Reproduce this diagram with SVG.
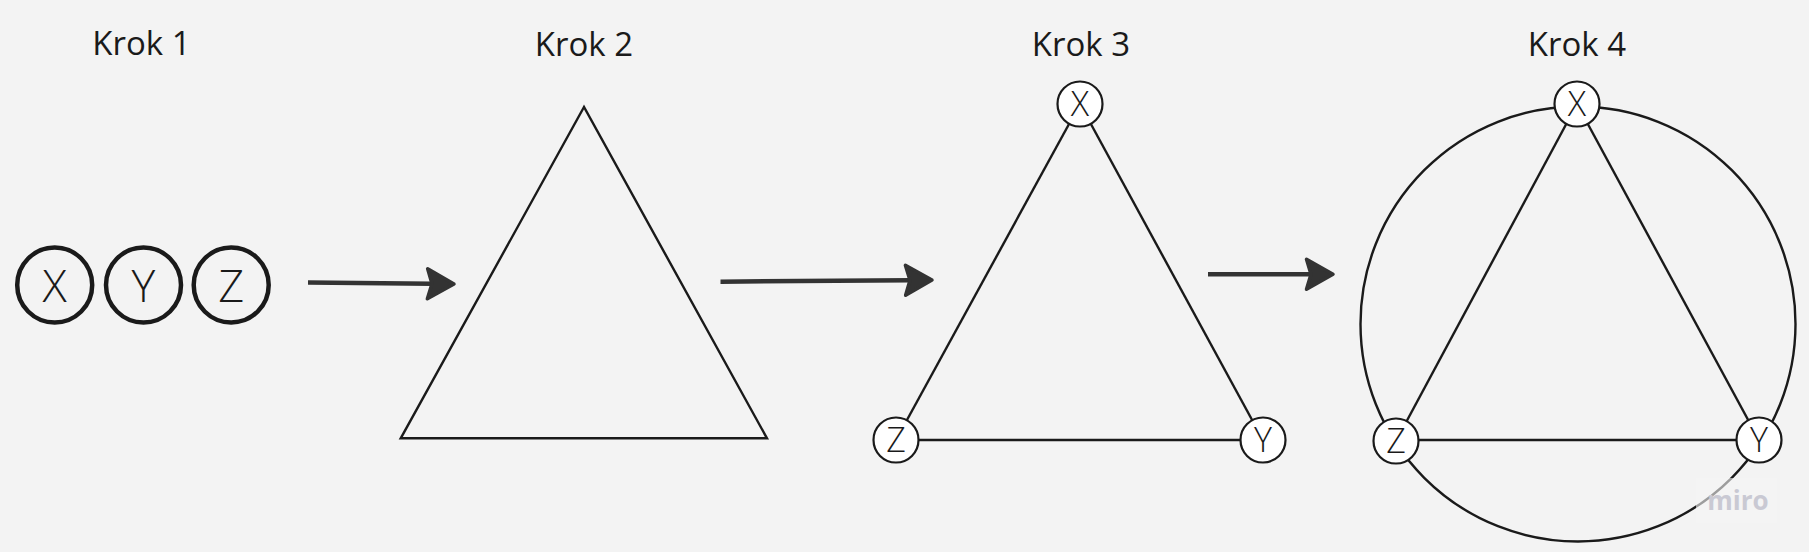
<svg xmlns="http://www.w3.org/2000/svg" width="1809" height="552" viewBox="0 0 1809 552">
  <defs>
    <style>
      .title { font-family: "Open Sans", "Liberation Sans", sans-serif; font-size: 33px; fill: #1a1a1a; text-anchor: middle; }
      .big { fill: none; stroke: #1a1a1a; stroke-width: 4.5; }
      .bigtxt { font-family: "Open Sans", "Liberation Sans", sans-serif; font-size: 45px; font-weight: 300; fill: #1a1a1a; text-anchor: middle; }
      .node { fill: #ffffff; stroke: #1a1a1a; stroke-width: 2.2; }
      .ntxt { font-family: "Open Sans", "Liberation Sans", sans-serif; font-size: 34px; font-weight: 300; fill: #1a1a1a; text-anchor: middle; }
      .edge { fill: none; stroke: #1a1a1a; stroke-width: 2.4; }
      .arrow { fill: none; stroke: #333333; stroke-width: 4.5; }
    </style>
    <marker id="head" markerUnits="userSpaceOnUse" viewBox="-10 -20 40 40" markerWidth="40" markerHeight="40" refX="0" refY="0" orient="auto" overflow="visible">
      <path d="M22,0 L-4.5,-15 L0,0 L-4.5,15 Z" fill="#333333" stroke="#333333" stroke-width="3.5" stroke-linejoin="round"/>
    </marker>
  </defs>
  <rect x="0" y="0" width="1809" height="552" fill="#f3f3f3"/>

  <g id="titles">
    <text class="title" x="141.5" y="55">Krok 1</text>
    <text class="title" x="584" y="55.5">Krok 2</text>
    <text class="title" x="1081" y="55.5">Krok 3</text>
    <text class="title" x="1577" y="55.5">Krok 4</text>
  </g>

  <g id="connectors">
    <line class="arrow" x1="308" y1="282.5" x2="432" y2="283.8" marker-end="url(#head)"/>
    <line class="arrow" x1="720.5" y1="281.7" x2="910" y2="280.2" marker-end="url(#head)"/>
    <line class="arrow" x1="1208" y1="274.3" x2="1311" y2="274.3" marker-end="url(#head)"/>
    <g id="step3-edges">
      <line class="edge" x1="1080" y1="104" x2="896" y2="440"/>
      <line class="edge" x1="1080" y1="104" x2="1263" y2="440"/>
      <line class="edge" x1="896" y1="440" x2="1263" y2="440"/>
    </g>
    <g id="step4-edges">
      <circle class="edge" cx="1578" cy="324" r="217.5"/>
      <line class="edge" x1="1577" y1="104" x2="1396" y2="441"/>
      <line class="edge" x1="1577" y1="104" x2="1759" y2="440"/>
      <line class="edge" x1="1396" y1="440" x2="1759" y2="440"/>
    </g>
  </g>

  <g id="step1">
    <g id="s1-x"><circle class="big" cx="54.7" cy="285" r="37.5"/><text class="bigtxt" x="54.7" y="301.5">X</text></g>
    <g id="s1-y"><circle class="big" cx="143.5" cy="285" r="37.5"/><text class="bigtxt" x="143.5" y="301.5">Y</text></g>
    <g id="s1-z"><circle class="big" cx="231.2" cy="285" r="37.5"/><text class="bigtxt" x="231.2" y="301.5">Z</text></g>
  </g>

  <g id="step2">
    <polygon points="584,107 400.7,438.3 767,438.3" fill="none" stroke="#1a1a1a" stroke-width="2.4" stroke-linejoin="miter"/>
  </g>

  <g id="step3">
    <g id="s3-x"><circle class="node" cx="1080" cy="104" r="22.5"/><text class="ntxt" x="1080" y="116">X</text></g>
    <g id="s3-z"><circle class="node" cx="896" cy="440" r="22.5"/><text class="ntxt" x="896" y="452">Z</text></g>
    <g id="s3-y"><circle class="node" cx="1263" cy="440" r="22.5"/><text class="ntxt" x="1263" y="452">Y</text></g>
  </g>

  <g id="step4">
    <g id="s4-x"><circle class="node" cx="1577" cy="104" r="22.5"/><text class="ntxt" x="1577" y="116">X</text></g>
    <g id="s4-z"><circle class="node" cx="1396" cy="441" r="22.5"/><text class="ntxt" x="1396" y="453">Z</text></g>
    <g id="s4-y"><circle class="node" cx="1759" cy="440" r="22.5"/><text class="ntxt" x="1759" y="452">Y</text></g>
  </g>

  <g id="watermark">
    <rect x="1696" y="478" width="81" height="45" fill="#f5f5f5" opacity="0.6"/>
    <text x="1738" y="510" font-family="'Open Sans', 'Liberation Sans', sans-serif" font-size="26" font-weight="700" fill="#c9c9d3" text-anchor="middle">miro</text>
  </g>
</svg>
